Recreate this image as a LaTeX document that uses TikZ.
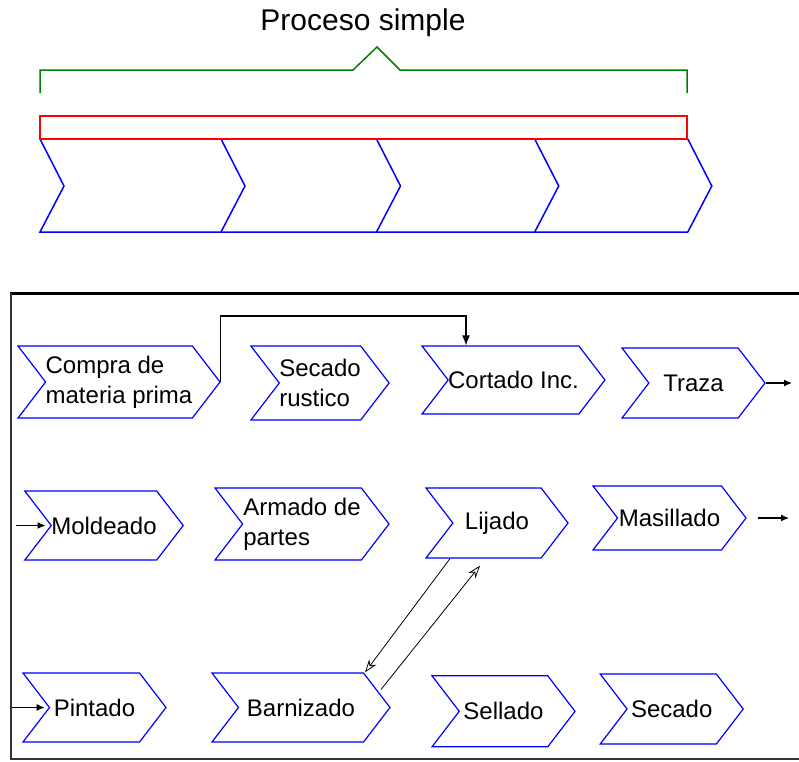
\documentclass[tikz,border=0pt]{standalone}
\usepackage{fontspec}
\setmainfont{Liberation Sans}
\usetikzlibrary{shapes.symbols,arrows.meta}

\definecolor{verdeP}{RGB}{0,128,0}
\tikzset{
  paso/.style={signal, signal from=west, signal to=east, signal pointer angle=105,
    draw=blue, line width=1.2pt, align=left, inner sep=0pt,
    font=\fontsize{24}{30}\selectfont},
  conector/.style={line width=1.2pt, -{Latex[length=10pt,width=8pt]}},
  flechita/.style={line width=1.2pt, -{Latex[length=8pt,width=7pt]}},
  retorno/.style={line width=0.8pt, -{Stealth[open,length=13pt,width=9pt]}}
}

\begin{document}
\begin{tikzpicture}[x=1pt,y=-1pt]
\useasboundingbox (0,0) rectangle (799,761);

% proceso simple
\node[font=\fontsize{30}{36}\selectfont] (titulo) at (363,23) {Proceso simple};
\draw[verdeP, line width=1.5pt] (40,93) -- (40,70) -- (353,70) -- (377,47) -- (400,70) -- (687,70) -- (687,93);
\draw[blue, line width=1.5pt] (40,139) -- (64,186) -- (40,232) -- (688,232);
\foreach \x in {221,376.5,534.7,687.8}
  \draw[blue, line width=1.5pt] (\x,139) -- (\x+24,186) -- (\x,232);
\draw[red, line width=1.5pt] (40,116) rectangle (687,139);

% marco
\draw[line width=3pt] (10,293) -- (799,293);
\draw[black!80, line width=2pt] (11,293) -- (11,759) -- (799,759);

% pasos
\node[paso, minimum width=202pt, minimum height=72pt] (compra) at (119,382) {Compra de\\materia prima};
\node[paso, minimum width=135pt, minimum height=74pt] (secadoR) at (320,383) {Secado\\rustico};
\node[paso, minimum width=167pt, minimum height=68pt] (cortado) at (513.5,380) {Cortado Inc.};
\node[paso, minimum width=143pt, minimum height=70pt] (traza) at (693.5,383) {Traza};

\node[paso, minimum width=142pt, minimum height=69pt] (moldeado) at (104,525.5) {Moldeado};
\node[paso, minimum width=174pt, minimum height=72pt] (armado) at (302,524) {Armado de\\partes};
\node[paso, minimum width=142pt, minimum height=70pt] (lijado) at (497,523) {Lijado};
\node[paso, minimum width=153pt, minimum height=64pt] (masillado) at (669.5,518) {Masillado};

\node[paso, minimum width=143pt, minimum height=69pt] (pintado) at (94.5,707.5) {Pintado};
\node[paso, minimum width=178pt, minimum height=69pt] (barnizado) at (301,707.5) {Barnizado};
\node[paso, minimum width=143pt, minimum height=71pt] (sellado) at (503.5,711.3) {Sellado};
\node[paso, minimum width=143pt, minimum height=70pt] (secado) at (671.7,709) {Secado};

% conexiones
\coordinate (codo) at (466,316);
\coordinate (salidaT) at (792,383);
\coordinate (salidaM) at (789,518);
\coordinate (entradaM) at (16,525.5);
\coordinate (entradaP) at (12,707.5);

\draw[conector] (compra.east) |- (codo) -- (cortado.north -| codo);
\draw[flechita] (traza.east) -- (salidaT);
\draw[flechita] ([xshift=11pt]masillado.east) -- (salidaM);
\draw[flechita] (entradaM) -- ([xshift=-5pt]moldeado.west);
\draw[flechita] (entradaP) -- ([xshift=-4pt]pintado.west);

\draw[retorno] ([xshift=-47pt]lijado.south) -- ([xshift=64pt]barnizado.north);
\draw[retorno] ([xshift=80pt,yshift=18pt]barnizado.center) -- ([xshift=-17pt,yshift=-7pt]lijado.south);
\end{tikzpicture}
\end{document}
